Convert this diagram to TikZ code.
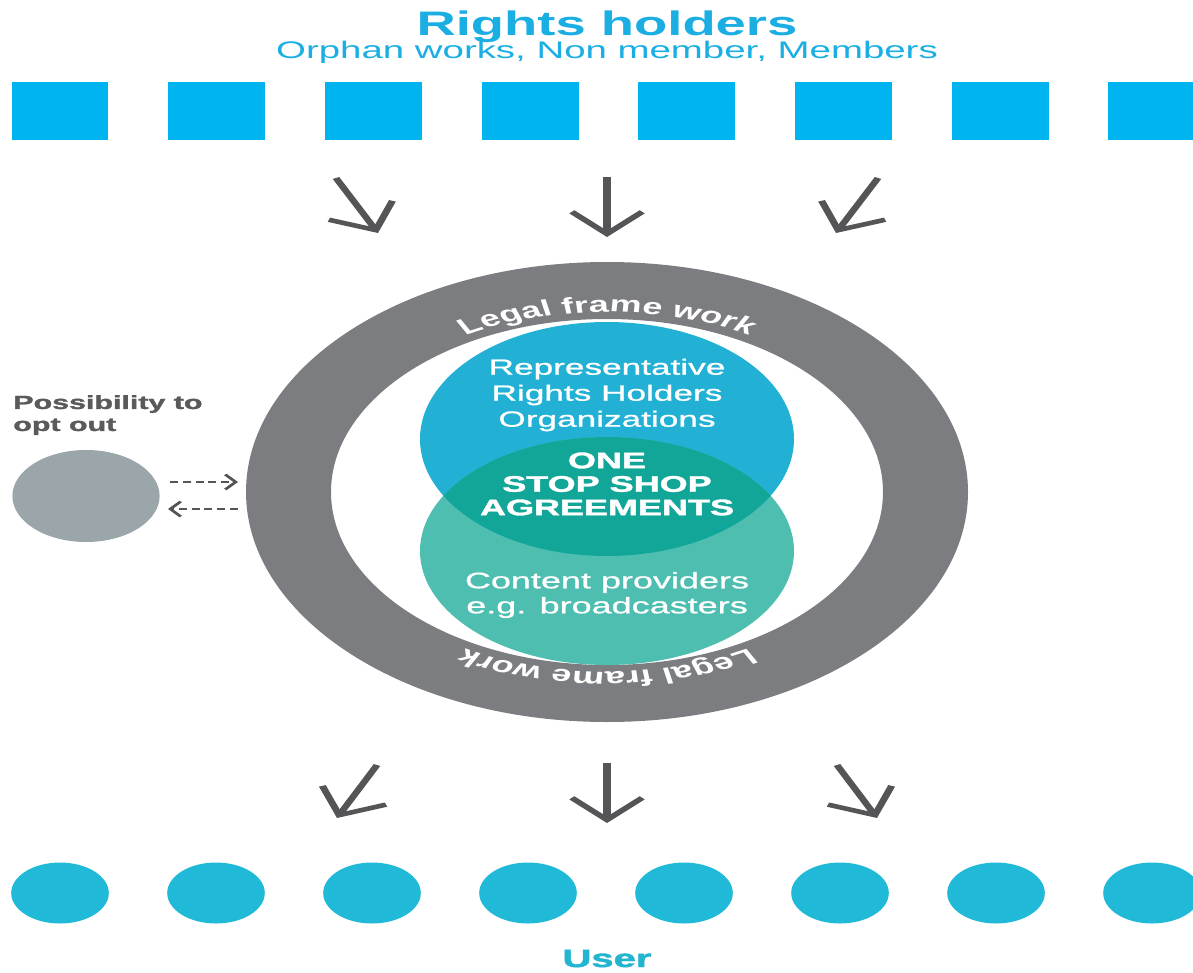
\documentclass[tikz,border=0pt]{standalone}
\usepackage{fontspec}
\setmainfont{Liberation Sans}
\newfontfamily\mediumfont{Liberation Sans}[FakeBold=0.7]
\newfontfamily\heavyfont{Liberation Sans Bold}[FakeBold=1.4]
\usetikzlibrary{arrows.meta, decorations.text}

\definecolor{holderblue}{RGB}{0,180,239}
\definecolor{titleblue}{RGB}{26,174,227}
\definecolor{ringgray}{RGB}{124,125,128}
\definecolor{rrhoblue}{RGB}{34,177,212}
\definecolor{providerteal}{RGB}{78,190,177}
\definecolor{agreeteal}{RGB}{18,166,152}
\definecolor{optgray}{RGB}{154,166,169}
\definecolor{arrowgray}{RGB}{85,85,88}
\definecolor{userblue}{RGB}{32,186,216}
\definecolor{usertext}{RGB}{35,180,208}
\definecolor{textgray}{RGB}{90,90,92}

\newcommand\legalfont{\color{white}\bfseries\fontsize{22.5}{22.5}\selectfont}

\begin{document}
\begin{tikzpicture}[
        x = 1pt, y = -1pt,
        > = {Straight Barb[length=22pt, width=44pt]},
        holder/.style = {fill=holderblue, minimum width=60.6pt, minimum height=58pt, inner sep=0pt},
        user/.style = {circle, fill=userblue, minimum size=61pt, inner sep=0pt},
        flow/.style = {->, arrowgray, line width=4.5pt},
        optarrow/.style = {-{Straight Barb[length=6.5pt, width=15pt]}, arrowgray, line width=2.2pt, dash pattern=on 5pt off 3pt},
        label/.style = {text=white, align=center, inner sep=0pt}
    ]

    % Page size of the reference.
    \useasboundingbox (0,0) rectangle (1193,973);

    % Everything below is drawn in a frame stretched sideways.
    \begin{scope}[transform canvas={xscale=1.6}, x=0.625pt]
        \clip (0,0) rectangle (1193,973);

        % Titles.
        \node[anchor=base, text=titleblue, font=\bfseries\fontsize{34}{34}\selectfont] (rights) at (607,36) {Rights holders};
        \node[anchor=base, text=titleblue, font=\fontsize{24}{24}\selectfont] (kinds) at (607,59) {Orphan works, Non member, Members};

        % Rights holders and users.
        \foreach \i in {0,...,7}{%
            \node[holder] (holder\i) at ({60+156.7*\i}, 111) {};
            \node[user]   (user\i)   at ({60+156*\i}, 893) {};
        }
        \node[anchor=base, text=usertext, font=\heavyfont\fontsize{25}{25}\selectfont] (userlabel) at (607,967) {User};

        % Legal frame work ring.
        \coordinate (ring) at (607,492);
        \fill[ringgray, even odd rule] (ring) ellipse[x radius=361, y radius=230]
                                       (ring) ellipse[x radius=276, y radius=173];
        \path[decorate, decoration={text along path, text align=center, text={|\legalfont|Legal frame work}}]
            (ring) ++(210:288 and 180) arc[start angle=210, end angle=330, x radius=288, y radius=180];
        \path[decorate, decoration={text along path, text align=center, text={|\legalfont|Legal frame work}}]
            (ring) ++(30:288 and 180) arc[start angle=30, end angle=150, x radius=288, y radius=180];

        % The two circles and their overlap.
        \fill[rrhoblue] (607,439) ellipse[x radius=187, y radius=117];
        \fill[providerteal] (607,551) ellipse[x radius=187, y radius=114];
        \begin{scope}
            \clip (607,439) ellipse[x radius=187, y radius=117];
            \fill[agreeteal] (607,551) ellipse[x radius=187, y radius=114];
        \end{scope}

        % Labels.
        \node[label, font=\mediumfont\fontsize{22}{26}\selectfont] (rrho) at (607,395) {Representative\\Rights Holders\\Organizations};
        \node[label, font=\heavyfont\fontsize{22.5}{23.5}\selectfont] (oss) at (607,484) {ONE\\STOP SHOP\\AGREEMENTS};
        \node[label, font=\mediumfont\fontsize{22.5}{25}\selectfont] (providers) at (607,595) {Content providers\\e.g. broadcasters};

        % Opt out.
        \node[anchor=north west, align=left, inner sep=0pt, text=textgray, font=\heavyfont\fontsize{19}{22}\selectfont] (optlabel) at (13,395) {Possibility to\\opt out};
        \node[circle, fill=optgray, minimum size=92pt, inner sep=0pt] (optout) at (86,496) {};
        \coordinate (outA) at (170,482);
        \coordinate (outB) at (238,482);
        \coordinate (backA) at (238,509);
        \coordinate (backB) at (168,509);
        \draw[optarrow] (outA) -- (outB);
        \draw[optarrow] (backA) -- (backB);

        % Arrows in and out.
        \foreach \sx/\sy/\ex/\ey [count=\n] in {336/178/378/233, 607/177/607/237, 878/178/836/233,
                                              377/765/337/818, 607/763/607/823, 837/765/877/818}{%
            \coordinate (from\n) at (\sx,\sy);
            \coordinate (to\n) at (\ex,\ey);
            \draw[flow] (from\n) -- (to\n);
        }
    \end{scope}
\end{tikzpicture}
\end{document}
